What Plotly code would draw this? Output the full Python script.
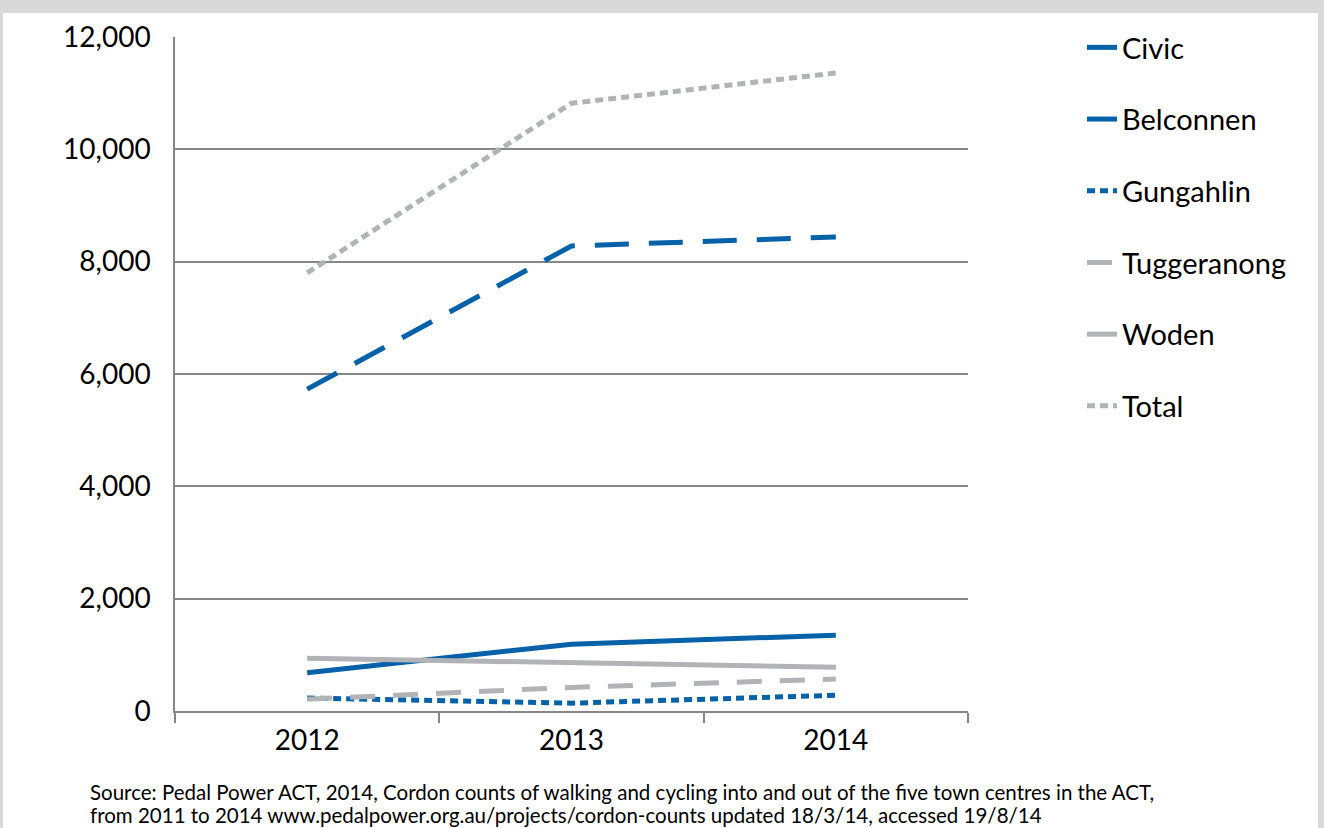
import plotly.graph_objects as go

years = ["2012", "2013", "2014"]
civic = [5730, 8280, 8440]
belconnen = [680, 1190, 1350]
gungahlin = [230, 140, 280]
tuggeranong = [210, 420, 570]
woden = [940, 870, 780]
total = [7800, 10820, 11360]

BLUE = "#0561a8"
GREY = "#b1b3b6"

series = [
    ("Civic", civic, BLUE, "34px,20px"),
    ("Belconnen", belconnen, BLUE, "solid"),
    ("Gungahlin", gungahlin, BLUE, "8px,5px"),
    ("Tuggeranong", tuggeranong, GREY, "25px,18px"),
    ("Woden", woden, GREY, "solid"),
    ("Total", total, GREY, "8px,5px"),
]

source_lines = [
    "Source: Pedal Power ACT, 2014, Cordon counts of walking and cycling into and out of the five town centres in the ACT,",
    "from 2011 to 2014 www.pedalpower.org.au/projects/cordon-counts updated 18/3/14, accessed 19/8/14",
]

FONT = "Lato"
fig = go.Figure()
for i, (name, vals, col, dash) in enumerate(series):
    fig.add_trace(go.Scatter(
        x=years, y=vals, name=name, mode="lines",
        line=dict(color=col, width=5, dash=dash),
        legendgroup=f"g{i}",
    ))

L, R, T, B = 175, 968, 37, 711
def px(x):
    return (x - L) / (R - L)
def py(y):
    return (B - y) / (B - T)

shapes = [
    dict(type="rect", xref="paper", yref="paper", layer="below",
         x0=px(3), x1=px(1318), y0=py(13), y1=py(840),
         fillcolor="white", line=dict(width=0)),
]

annotations = []
for line_text, yc in zip(source_lines, [792, 815]):
    annotations.append(dict(
        xref="paper", yref="paper", x=px(88), y=py(yc), xanchor="left",
        yanchor="middle", align="left", showarrow=False,
        font=dict(size=20.5, family=FONT, color="black"), text=line_text))

fig.update_layout(
    width=1324, height=828,
    margin=dict(l=L, r=1324 - R, t=T, b=828 - B),
    paper_bgcolor="#d9d9d9",
    plot_bgcolor="white",
    font=dict(family=FONT, color="black", size=28),
    showlegend=True,
    legend=dict(
        x=px(1082), y=py(22), xanchor="left", yanchor="top",
        font=dict(size=29, family=FONT),
        tracegroupgap=31, bgcolor="rgba(0,0,0,0)",
    ),
    xaxis=dict(
        type="category", range=[-0.5, 2.5],
        showgrid=False, showline=True, linecolor="#868686", linewidth=1.5,
        ticks="outside", tickson="boundaries", ticklen=10, tickwidth=1.5,
        tickcolor="#868686", tickfont=dict(size=28, family=FONT),
        ticklabelstandoff=4,
    ),
    yaxis=dict(
        range=[0, 12000], tickvals=[0, 2000, 4000, 6000, 8000, 10000, 12000],
        tickformat=",", showgrid=True, gridcolor="#868686", gridwidth=1.5,
        showline=True, linecolor="#868686", linewidth=1.5,
        ticks="", zeroline=False,
        tickfont=dict(size=28, family=FONT), ticklabelstandoff=17,
    ),
    shapes=shapes,
    annotations=annotations,
)

fig.write_html("out.html")
